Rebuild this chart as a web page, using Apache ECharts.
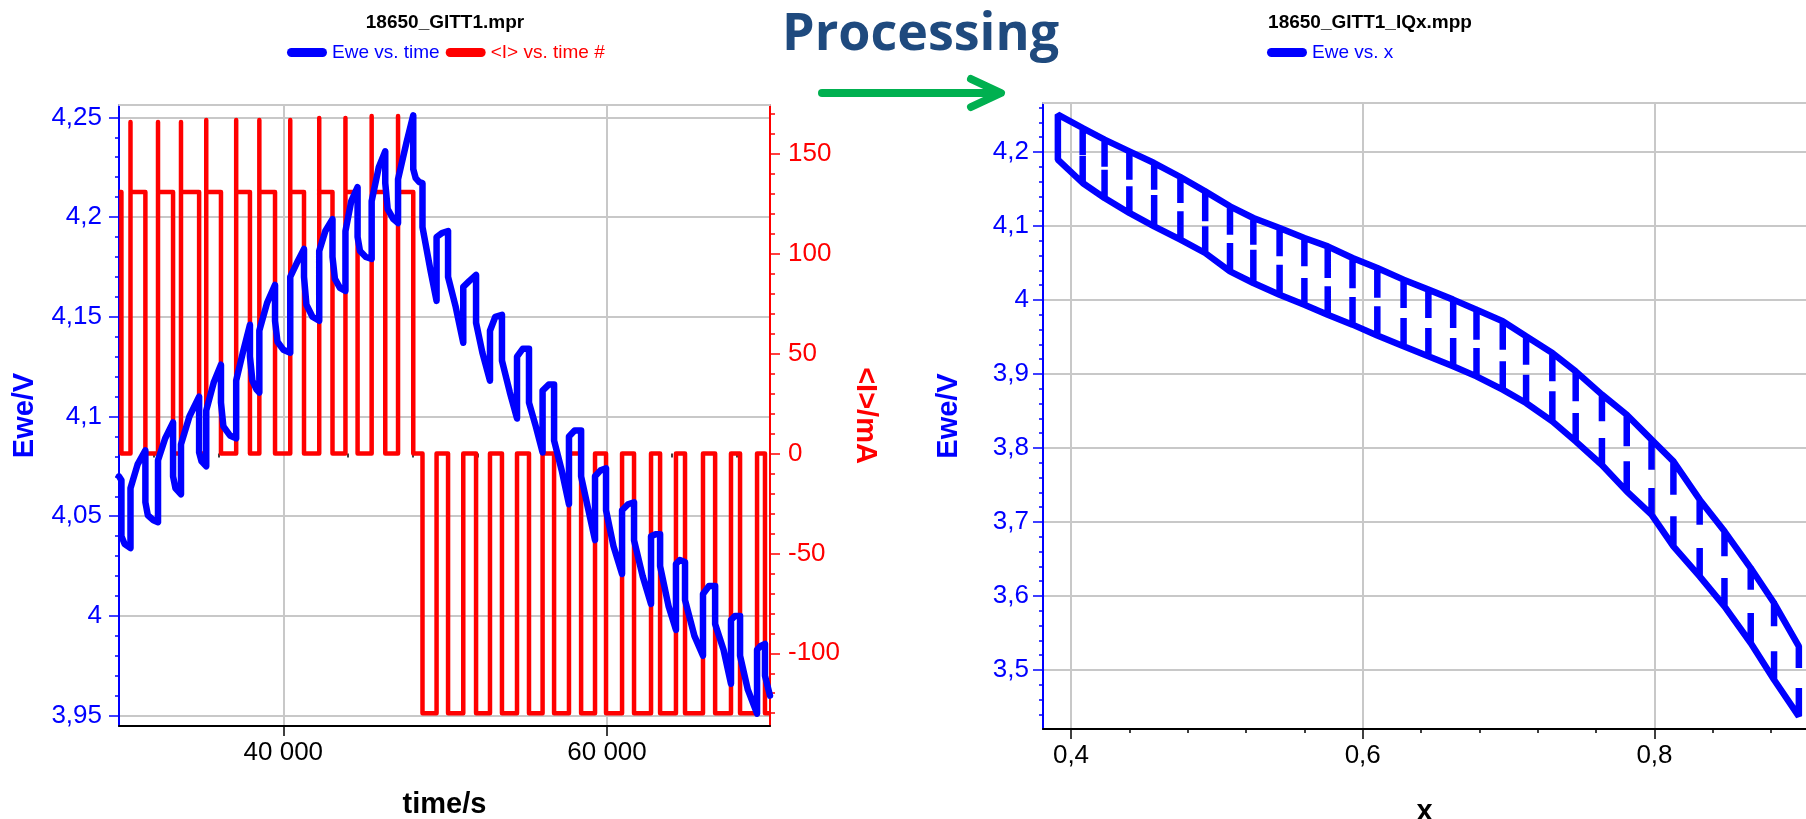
<!DOCTYPE html>
<html>
<head>
<meta charset="utf-8">
<title>18650 GITT processing</title>
<script src="https://cdn.jsdelivr.net/npm/echarts@6.0.0/dist/echarts.min.js"></script>
<style>
  html, body { margin: 0; padding: 0; background: #fff; }
  #chart { width: 1806px; height: 819px; }
</style>
</head>
<body>
<div id="chart"></div>
<script>
// ---- left chart: Ewe / <I> vs time ----
var eweTime = [
  29850, 30000, 30000, 30200, 30560,
  30560, 31000, 31480, 31480, 31630, 31980, 32260,
  32260, 32700, 33190, 33190, 33340, 33680,
  33680, 34200, 34800, 34800, 34950, 35240,
  35240, 35700, 36150, 36150, 36300, 36700, 37090,
  37090, 37500, 37940, 37940, 38090, 38350, 38520,
  38520, 39000, 39490, 39490, 39640, 40000, 40430,
  40430, 40900, 41280, 41280, 41430, 41800, 42220,
  42220, 42600, 43040, 43040, 43190, 43500, 43840,
  43840, 44200, 44590, 44590, 44740, 45100, 45460,
  45460, 45900, 46300, 46300, 46450, 46800, 47090,
  47090, 47600, 48030, 48030, 48180, 48400, 48600,
  48600, 49100, 49470, 49470, 49800, 50180,
  50180, 50650, 51120, 51120, 51500, 51910,
  51910, 52300, 52770, 52770, 53100, 53510,
  53510, 54000, 54440, 54440, 54800, 55180,
  55180, 55600, 56020, 56020, 56400, 56730,
  56730, 57200, 57650, 57650, 58000, 58400,
  58400, 58800, 59260, 59260, 59600, 59940,
  59940, 60400, 60930, 60930, 61300, 61670,
  61670, 62200, 62720, 62720, 63000, 63280,
  63280, 63800, 64260, 64260, 64500, 64820,
  64820, 65400, 65930, 65930, 66300, 66680,
  66680, 67200, 67660, 67660, 67900, 68220,
  68220, 68700, 69270, 69270, 69500, 69760,
  69760, 70070
];
var eweVolt = [
  4.070, 4.068, 4.040, 4.036, 4.034,
  4.064, 4.076, 4.083, 4.057, 4.0505, 4.048, 4.047,
  4.078, 4.089, 4.097, 4.070, 4.064, 4.061,
  4.086, 4.100, 4.110, 4.082, 4.0775, 4.075,
  4.103, 4.117, 4.126, 4.107, 4.095, 4.0905, 4.089,
  4.118, 4.132, 4.146, 4.130, 4.118, 4.1135, 4.112,
  4.143, 4.157, 4.166, 4.148, 4.1375, 4.1335, 4.132,
  4.170, 4.178, 4.184, 4.170, 4.156, 4.150, 4.148,
  4.183, 4.193, 4.199, 4.180, 4.169, 4.1645, 4.163,
  4.193, 4.208, 4.215, 4.190, 4.183, 4.180, 4.179,
  4.208, 4.225, 4.233, 4.217, 4.204, 4.199, 4.197,
  4.219, 4.237, 4.251, 4.224, 4.2195, 4.2175, 4.217,
  4.195, 4.173, 4.158, 4.190, 4.192, 4.193,
  4.170, 4.155, 4.137, 4.165, 4.168, 4.171,
  4.147, 4.132, 4.118, 4.143, 4.150, 4.151,
  4.128, 4.112, 4.099, 4.130, 4.134, 4.134,
  4.107, 4.095, 4.082, 4.113, 4.116, 4.116,
  4.088, 4.073, 4.056, 4.090, 4.093, 4.093,
  4.070, 4.055, 4.038, 4.070, 4.073, 4.074,
  4.053, 4.035, 4.021, 4.053, 4.056, 4.057,
  4.038, 4.020, 4.006, 4.040, 4.041, 4.041,
  4.025, 4.005, 3.993, 4.026, 4.028, 4.027,
  4.008, 3.990, 3.980, 4.011, 4.015, 4.015,
  3.996, 3.983, 3.966, 3.998, 4.000, 4.000,
  3.980, 3.963, 3.951, 3.983, 3.985, 3.986,
  3.970, 3.960
];

// current pulses (s) and levels (mA)
var prePulse = [29850, 30000];
var chargeStart = [30560, 32260, 33680, 35240, 37090, 38520, 40430, 42220, 43840, 45460, 47090];
var chargeEnd = [31480, 33190, 34800, 36150, 37940, 39490, 41280, 43040, 44590, 46300, 48030];
var chargeSpike = [166, 166, 166, 167, 167, 167, 167, 168, 168, 169, 169];
var dischargeStart = [48600, 50180, 51910, 53510, 55180, 56730, 58400, 59940, 61670, 63280, 64820, 66680, 68220, 69760];
var dischargeEnd = [49470, 51120, 52770, 54440, 56020, 57650, 59260, 60930, 62720, 64260, 65930, 67660, 69270, 70070];
var chargeLevel = 131;
var dischargeLevel = -130;

// ticks
var timeMajor = [40000, 60000];
var timeMinor = [32000, 36000, 44000, 48000, 52000, 56000, 64000, 68000];
var voltMajor = [3.95, 4, 4.05, 4.1, 4.15, 4.2, 4.25];
var voltMinor = [3.96, 3.97, 3.98, 3.99, 4.01, 4.02, 4.03, 4.04, 4.06, 4.07, 4.08, 4.09,
  4.11, 4.12, 4.13, 4.14, 4.16, 4.17, 4.18, 4.19, 4.21, 4.22, 4.23, 4.24];
var curMajor = [-100, -50, 0, 50, 100, 150];
var curMinor = [-130, -120, -110, -90, -80, -70, -60, -40, -30, -20, -10, 10, 20, 30, 40,
  60, 70, 80, 90, 110, 120, 130, 140, 160, 170];

// ---- right chart: Ewe vs x ----
var xPos = [0.391, 0.408, 0.423, 0.440, 0.457, 0.475, 0.492, 0.509, 0.525, 0.543, 0.560,
  0.576, 0.593, 0.610, 0.628, 0.645, 0.662, 0.678, 0.696, 0.712, 0.730, 0.746, 0.764,
  0.781, 0.798, 0.813, 0.831, 0.848, 0.866, 0.882, 0.899];
var vUpper = [4.2505, 4.2324, 4.2167, 4.2009, 4.1851, 4.1662, 4.1468, 4.1266, 4.1108, 4.0973,
  4.0838, 4.0725, 4.0568, 4.0432, 4.0275, 4.0140, 4.0005, 3.9869, 3.9712, 3.9509, 3.9284,
  3.9036, 3.8721, 3.8450, 3.8113, 3.7820, 3.7302, 3.6874, 3.6378, 3.5905, 3.5320];
var vChargeRest = [4.217, 4.196, 4.180, 4.1626, 4.149, 4.131, 4.1063, 4.0883, 4.0748, 4.059,
  4.0455, 4.0297, 4.016, 4.003, 3.9892, 3.9757, 3.9622, 3.9464, 3.9329, 3.9126, 3.8901,
  3.8631, 3.836, 3.8023, 3.7707, 3.737, 3.6964, 3.6536, 3.6086, 3.559, 3.5027];
var vDischargeRest = [4.217, 4.195, 4.176, 4.1536, 4.142, 4.120, 4.0995, 4.077, 4.068, 4.0477,
  4.0297, 4.0185, 4.004, 3.9914, 3.9757, 3.9622, 3.9486, 3.9351, 3.9171, 3.8991, 3.8766,
  3.8473, 3.8135, 3.782, 3.746, 3.7077, 3.6649, 3.6243, 3.577, 3.5252, 3.4757];
var vLower = [4.1896, 4.1581, 4.1378, 4.1176, 4.0995, 4.0815, 4.0635, 4.0387, 4.0230, 4.0072,
  3.9937, 3.9802, 3.9667, 3.9520, 3.9374, 3.9239, 3.9104, 3.8968, 3.8788, 3.8608, 3.8360,
  3.8090, 3.7770, 3.7414, 3.7099, 3.6671, 3.6266, 3.5860, 3.5365, 3.4869, 3.4374];

var xMajor = [0.4, 0.6, 0.8];
var xMinor = [0.44, 0.48, 0.52, 0.56, 0.64, 0.68, 0.72, 0.76, 0.84, 0.88];
var eMajor = [3.5, 3.6, 3.7, 3.8, 3.9, 4, 4.1, 4.2];
var eMinor = [3.44, 3.46, 3.48, 3.52, 3.54, 3.56, 3.58, 3.62, 3.64, 3.66, 3.68, 3.72, 3.74,
  3.76, 3.78, 3.82, 3.84, 3.86, 3.88, 3.92, 3.94, 3.96, 3.98, 4.02, 4.04, 4.06, 4.08,
  4.12, 4.14, 4.16, 4.18, 4.22, 4.24, 4.26];

var FONT = '"Liberation Sans", Arial, sans-serif';
var GRID_COLOR = '#c8c8c8';
var BLUE = '#0000ff';
var RED = '#ff0000';

function commaLabel(v) {
  return String(Math.round(v * 1000) / 1000).replace('.', ',');
}
function spaceLabel(v) {
  return Math.round(v / 1000) + ' 000';
}

function buildEwe() {
  var pts = [];
  for (var i = 0; i < eweTime.length; i++) {
    pts.push([eweTime[i], eweVolt[i]]);
  }
  return pts;
}

function buildCurrent() {
  var pts = [[prePulse[0], chargeLevel], [prePulse[1], chargeLevel], [prePulse[1], 0]];
  for (var i = 0; i < chargeStart.length; i++) {
    pts.push([chargeStart[i], 0], [chargeStart[i], chargeSpike[i]], [chargeStart[i], chargeLevel]);
    pts.push([chargeEnd[i], chargeLevel], [chargeEnd[i], 0]);
  }
  for (var j = 0; j < dischargeStart.length; j++) {
    pts.push([dischargeStart[j], 0], [dischargeStart[j], dischargeLevel], [dischargeEnd[j], dischargeLevel]);
    // last pulse runs past the right edge
    if (j < dischargeStart.length - 1) pts.push([dischargeEnd[j], 0]);
  }
  return pts;
}

// charge goes along the upper curve (x decreasing), discharge along the lower one
function buildLoop() {
  var n = xPos.length;
  var pts = [];
  for (var k = n - 1; k >= 0; k--) {
    if (k < n - 1) pts.push([xPos[k], vUpper[k]]);
    pts.push([xPos[k], vChargeRest[k]]);
    if (k > 0) pts.push([xPos[k], vUpper[k]]);
  }
  for (var m = 0; m < n; m++) {
    if (m > 0) pts.push([xPos[m], vLower[m]]);
    pts.push([xPos[m], vDischargeRest[m]]);
    if (m < n - 1) pts.push([xPos[m], vLower[m]]);
  }
  return pts;
}

// axis helpers
function mainAxis(opt) {
  return {
    type: 'value',
    gridIndex: opt.grid,
    position: opt.position,
    min: opt.min,
    max: opt.max,
    axisLine: { show: true, onZero: false, lineStyle: { color: opt.color, width: 2 } },
    axisTick: { show: true, customValues: opt.ticks, length: 10, lineStyle: { color: opt.color, width: 1.5 } },
    axisLabel: {
      show: true, customValues: opt.ticks, formatter: opt.formatter, margin: opt.margin,
      color: opt.color, fontSize: 26, fontFamily: FONT
    },
    splitLine: { show: opt.split, lineStyle: { color: GRID_COLOR, width: 2 } },
    name: opt.name,
    nameLocation: 'middle',
    nameGap: opt.nameGap,
    nameRotate: opt.nameRotate,
    nameTextStyle: { color: opt.color, fontSize: 29, fontWeight: 'bold', fontFamily: FONT }
  };
}
function minorAxis(opt) {
  return {
    type: 'value',
    gridIndex: opt.grid,
    position: opt.position,
    min: opt.min,
    max: opt.max,
    axisLine: { show: false },
    axisTick: { show: true, customValues: opt.ticks, length: opt.length || 4, lineStyle: { color: opt.color, width: 1.5 } },
    axisLabel: { show: false },
    splitLine: { show: false }
  };
}
function borderAxis(grid, min, max) {
  return {
    type: 'value', gridIndex: grid, position: 'top', min: min, max: max,
    axisLine: { show: true, onZero: false, lineStyle: { color: GRID_COLOR, width: 2 } },
    axisTick: { show: false }, axisLabel: { show: false }, splitLine: { show: false }
  };
}

var T_MIN = 29850, T_MAX = 70070;
var V_MIN = 3.9448, V_MAX = 4.2562;
var I_MIN = -136.4, I_MAX = 174.5;
var X_MIN = 0.3808, X_MAX = 0.9039;
var E_MIN = 3.4203, E_MAX = 4.2662;

var LEGEND_ICON = 'path://M4.5,0 L35.5,0 A4.5,4.5 0 0 1 35.5,9 L4.5,9 A4.5,4.5 0 0 1 4.5,0 Z';

var chart = echarts.init(document.getElementById('chart'));

var option = {
  animation: false,
  backgroundColor: '#fff',
  title: [
    {
      text: '18650_GITT1.mpr', left: 445, top: 13, textAlign: 'center', padding: 0,
      textStyle: { fontSize: 19, fontWeight: 'bold', color: '#000', fontFamily: FONT }
    },
    {
      text: '18650_GITT1_IQx.mpp', left: 1370, top: 13, textAlign: 'center', padding: 0,
      textStyle: { fontSize: 19, fontWeight: 'bold', color: '#000', fontFamily: FONT }
    }
  ],
  legend: [
    {
      left: 287, top: 43, padding: 0, itemGap: 6, itemWidth: 40, itemHeight: 9,
      icon: LEGEND_ICON,
      textStyle: { fontSize: 19, fontFamily: FONT },
      data: [
        { name: 'Ewe vs. time', textStyle: { color: BLUE } },
        { name: '<I> vs. time #', textStyle: { color: RED } }
      ]
    },
    {
      left: 1267, top: 43, padding: 0, itemWidth: 40, itemHeight: 9,
      icon: LEGEND_ICON,
      textStyle: { fontSize: 19, fontFamily: FONT },
      data: [{ name: 'Ewe vs. x', textStyle: { color: BLUE } }]
    }
  ],
  grid: [
    { left: 119, top: 105, width: 651, height: 621, outerBoundsMode: 'none' },
    { left: 1043, top: 103, width: 763, height: 626, outerBoundsMode: 'none' }
  ],
  xAxis: [
    mainAxis({ grid: 0, position: 'bottom', min: T_MIN, max: T_MAX, color: '#000', ticks: timeMajor,
      formatter: spaceLabel, margin: 14, split: true, name: 'time/s', nameGap: 64 }),
    minorAxis({ grid: 0, position: 'bottom', min: T_MIN, max: T_MAX, color: '#000', ticks: timeMinor }),
    borderAxis(0, T_MIN, T_MAX),
    mainAxis({ grid: 1, position: 'bottom', min: X_MIN, max: X_MAX, color: '#000', ticks: xMajor,
      formatter: commaLabel, margin: 14, split: true, name: 'x', nameGap: 68 }),
    minorAxis({ grid: 1, position: 'bottom', min: X_MIN, max: X_MAX, color: '#000', ticks: xMinor }),
    borderAxis(1, X_MIN, X_MAX)
  ],
  yAxis: [
    mainAxis({ grid: 0, position: 'left', min: V_MIN, max: V_MAX, color: BLUE, ticks: voltMajor,
      formatter: commaLabel, margin: 17, split: true, name: 'Ewe/V', nameGap: 80 }),
    minorAxis({ grid: 0, position: 'left', min: V_MIN, max: V_MAX, color: BLUE, ticks: voltMinor }),
    mainAxis({ grid: 0, position: 'right', min: I_MIN, max: I_MAX, color: RED, ticks: curMajor,
      formatter: commaLabel, margin: 18, split: false, name: '<I>/mA', nameGap: 80, nameRotate: -90 }),
    minorAxis({ grid: 0, position: 'right', min: I_MIN, max: I_MAX, color: RED, ticks: curMinor, length: 5 }),
    mainAxis({ grid: 1, position: 'left', min: E_MIN, max: E_MAX, color: BLUE, ticks: eMajor,
      formatter: commaLabel, margin: 14, split: true, name: 'Ewe/V', nameGap: 80 }),
    minorAxis({ grid: 1, position: 'left', min: E_MIN, max: E_MAX, color: BLUE, ticks: eMinor })
  ],
  graphic: [
    {
      type: 'text', x: 782, y: 35,
      style: {
        text: 'Processing', fill: '#1f4a7e', fontSize: 52, fontWeight: 'bold',
        fontFamily: '"Open Sans", "Noto Sans", sans-serif', align: 'left', verticalAlign: 'middle'
      }
    },
    {
      type: 'line', shape: { x1: 822, y1: 93, x2: 999, y2: 93 },
      style: { stroke: '#00b050', lineWidth: 8, lineCap: 'round' }
    },
    {
      type: 'polyline', shape: { points: [[971, 79], [1001, 93], [971, 107]] },
      style: { stroke: '#00b050', fill: null, lineWidth: 8, lineCap: 'round', lineJoin: 'round' }
    }
  ],
  series: [
    {
      name: '<I> vs. time #', type: 'line', xAxisIndex: 0, yAxisIndex: 2,
      data: buildCurrent(), showSymbol: false, z: 2,
      lineStyle: { color: RED, width: 4.5, join: 'round' }, itemStyle: { color: RED }
    },
    {
      name: 'Ewe vs. time', type: 'line', xAxisIndex: 0, yAxisIndex: 0,
      data: buildEwe(), showSymbol: false, z: 3,
      lineStyle: { color: BLUE, width: 6.5, join: 'round', cap: 'round' }, itemStyle: { color: BLUE }
    },
    {
      name: 'Ewe vs. x', type: 'line', xAxisIndex: 3, yAxisIndex: 4,
      data: buildLoop(), showSymbol: false,
      lineStyle: { color: BLUE, width: 6.5, join: 'bevel' }, itemStyle: { color: BLUE }
    }
  ]
};

chart.setOption(option);
</script>
</body>
</html>
